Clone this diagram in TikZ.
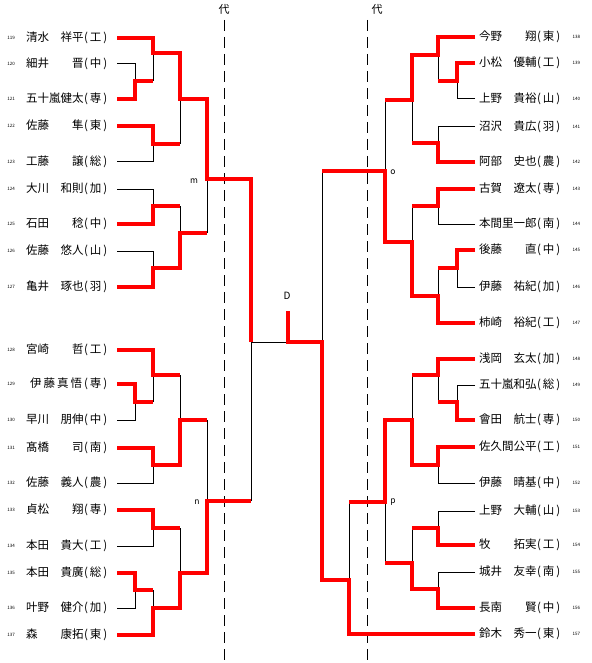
\documentclass[tikz,border=0pt]{standalone}
\usepackage{fontspec}
\newfontfamily\jpfont{Noto Sans CJK JP}
\usetikzlibrary{positioning}

\newcommand{\schbox}[1]{\makebox[27pt]{(\kern2pt#1\kern2pt)}}

\begin{document}
\begin{tikzpicture}[
  x=1pt, y=-1pt,
  line join=miter,
  win/.style={draw=red, line width=4pt},
  lose/.style={draw=black, line width=1pt},
  sepline/.style={draw=black, line width=1pt, dash pattern=on 11pt off 6pt},
  player/.style={inner sep=0pt, font=\jpfont\fontsize{11.5}{11.5}\selectfont},
  seedno/.style={inner sep=0pt, font=\jpfont\fontsize{4.5}{5}\selectfont},
  blocktag/.style={inner sep=0pt, font=\jpfont\fontsize{8.5}{8.5}\selectfont},
  seplabel/.style={inner sep=0pt, font=\jpfont\fontsize{11}{11}\selectfont}
]
\useasboundingbox (0,0) rectangle (591,663);

% separation lines
\draw[sepline] (224,20) -- (224,663);
\draw[sepline] (367,20) -- (367,663);
\node[seplabel] (dail) at (224,9) {代};
\node[seplabel] (dair) at (377,9) {代};

% left block
\foreach \n/\y/\nm/\sc in {
  119/38/清水　祥平/工, 120/64/細井　　晋/中, 121/99/五十嵐健太/専,
  122/126/佐藤　　隼/東, 123/162/工藤　　譲/総, 124/189/大川　和則/加,
  125/224/石田　　稔/中, 126/251/佐藤　悠人/山, 127/287/亀井　琢也/羽,
  128/350/宮崎　　哲/工, 129/384/{\kern4pt 伊\hfill 藤\hfill 真\hfill 悟}/専,
  130/420/早川　朋伸/中, 131/448/髙橋　　司/南, 132/483/佐藤　義人/農,
  133/510/貞松　　翔/専, 134/546/本田　貴大/工, 135/573/本田　貴廣/総,
  136/608/叶野　健介/加, 137/635/森　　康拓/東}{
  \node[player, anchor=west] (p\n) at (26,\y)
    {\makebox[56pt][l]{\nm}\schbox{\sc}};
  \node[seedno, left=11pt of p\n] (no\n) {\n};
  \coordinate (s\n) at (117,\y);
}

% right block
\foreach \n/\y/\nm/\sc in {
  138/37/今野　　翔/東, 139/63/小松　優輔/工, 140/99/上野　貴裕/山,
  141/127/沼沢　貴広/羽, 142/162/阿部　史也/農, 143/189/古賀　遼太/専,
  144/224/本間里一郎/南, 145/250/後藤　　直/中, 146/287/伊藤　祐紀/加,
  147/323/柿崎　裕紀/工, 148/359/浅岡　玄太/加, 149/385/五十嵐和弘/総,
  150/420/會田　航士/専, 151/447/佐久間公平/工, 152/483/伊藤　晴基/中,
  153/511/上野　大輔/山, 154/545/牧　　拓実/工, 155/572/城井　友幸/南,
  156/608/長南　　賢/中, 157/634/鈴木　秀一/東}{
  \node[player, anchor=west] (p\n) at (479,\y)
    {\makebox[56pt][l]{\nm}\schbox{\sc}};
  \node[seedno, right=10pt of p\n] (no\n) {\n};
  \coordinate (s\n) at (475,\y);
}

% left: losing lines
\draw[lose] (s120) -| (135,81);
\draw[lose] (s123) -| (153,144);
\draw[lose] (s124) -| (153,206);
\draw[lose] (s126) -| (153,268);
\draw[lose] (s130) -| (135,402);
\draw[lose] (s132) -| (153,465);
\draw[lose] (s134) -| (153,528);
\draw[lose] (s136) -| (135,590);
\draw[lose] (153,81) -- (153,53);
\draw[lose] (180,99) -- (180,144);
\draw[lose] (180,233) -- (180,206);
\draw[lose] (207,179) -- (207,233);
\draw[lose] (153,402) -- (153,375);
\draw[lose] (180,375) -- (180,420);
\draw[lose] (153,590) -- (153,608);
\draw[lose] (180,528) -- (180,573);
\draw[lose] (207,420) -- (207,501);
\draw[lose] (251,501) -- (251,342) -- (288,342);

% right: losing lines
\draw[lose] (s140) -| (457,81);
\draw[lose] (s141) -| (438,143);
\draw[lose] (s144) -| (438,206);
\draw[lose] (s146) -| (457,268);
\draw[lose] (s149) -| (457,402);
\draw[lose] (s152) -| (438,465);
\draw[lose] (s153) -| (438,528);
\draw[lose] (s155) -| (438,589);
\draw[lose] (438,81) -- (438,55);
\draw[lose] (412,143) -- (412,100);
\draw[lose] (438,268) -- (438,296);
\draw[lose] (412,206) -- (412,242);
\draw[lose] (385,100) -- (385,171);
\draw[lose] (438,402) -- (438,375);
\draw[lose] (412,375) -- (412,420);
\draw[lose] (412,528) -- (412,563);
\draw[lose] (385,563) -- (385,502);
\draw[lose] (349,502) -- (349,580);
\draw[lose] (322,171) -- (322,342);

% left: winning paths
\draw[win] (s119) -| (153,53) -| (180,99) -| (207,179) -| (251,342);
\draw[win] (s121) -| (135,81) -- (153,81);
\draw[win] (s122) -| (153,144) -- (180,144);
\draw[win] (s125) -| (153,206) -- (180,206);
\draw[win] (s127) -| (153,268) -| (180,233) -- (207,233);
\draw[win] (s128) -| (153,375) -- (180,375);
\draw[win] (s129) -| (135,402) -- (153,402);
\draw[win] (s131) -| (153,465) -| (180,420) -- (207,420);
\draw[win] (s133) -| (153,528) -- (180,528);
\draw[win] (s135) -| (135,590) -- (153,590);
\draw[win] (s137) -| (153,608) -| (180,573) -| (207,501) -- (251,501);

% right: winning paths
\draw[win] (s138) -| (438,55) -| (412,100) -- (385,100);
\draw[win] (s139) -| (457,81) -- (438,81);
\draw[win] (s142) -| (438,143) -- (412,143);
\draw[win] (s143) -| (438,206) -- (412,206);
\draw[win] (s145) -| (457,268) -- (438,268);
\draw[win] (s147) -| (438,296) -| (412,242) -| (385,171) -- (322,171);
\draw[win] (s148) -| (438,375) -- (412,375);
\draw[win] (s150) -| (457,402) -- (438,402);
\draw[win] (s151) -| (438,465) -| (412,420) -| (385,502) -- (349,502);
\draw[win] (s154) -| (438,528) -- (412,528);
\draw[win] (s156) -| (438,589) -| (412,563) -- (385,563);
\draw[win] (s157) -| (349,580) -| (322,342) -| (288,311);

% block tags
\node[blocktag] (tagm) at (194,181) {m};
\node[blocktag] (tagn) at (197,502) {n};
\node[blocktag] (tago) at (393,172) {o};
\node[blocktag] (tagp) at (393,502) {p};
\node[blocktag, font=\jpfont\fontsize{10}{10}\selectfont] (tagd) at (287,296) {D};
\end{tikzpicture}
\end{document}
